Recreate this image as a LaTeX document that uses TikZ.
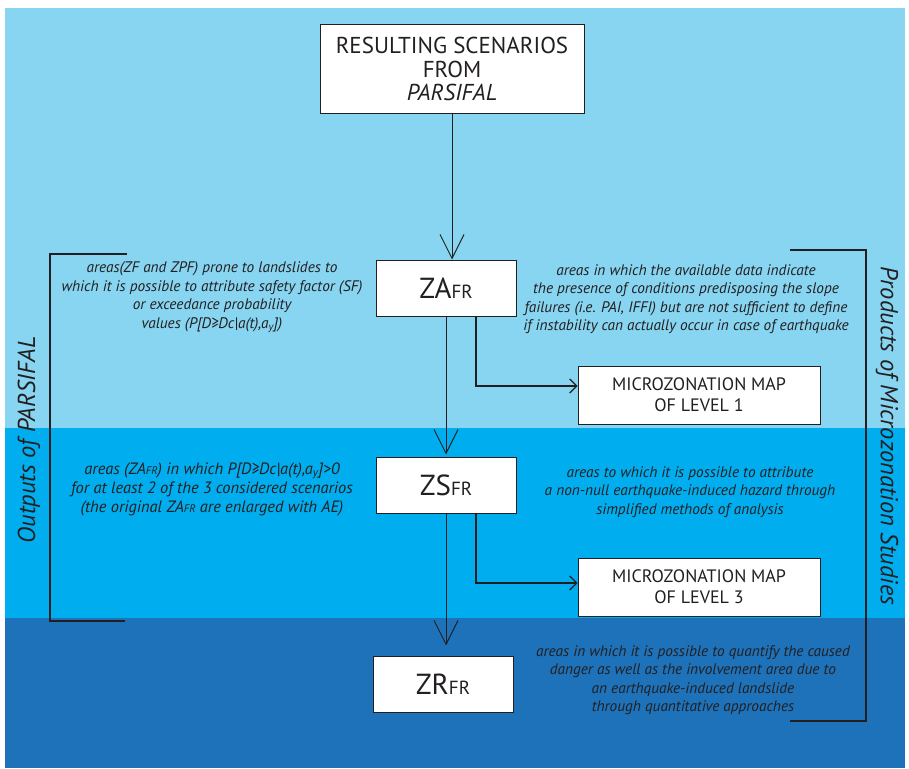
\documentclass[tikz,border=0pt]{standalone}
\usepackage{fontspec}
\setmainfont{PT Sans}
\usetikzlibrary{arrows.meta}
\definecolor{bgA}{HTML}{87D5F1}
\definecolor{bgB}{HTML}{00AEEF}
\definecolor{bgC}{HTML}{1D72BA}
\definecolor{ink}{HTML}{231F20}
\newcommand{\FR}[1]{{\fontsize{#1}{#1}\selectfont FR}}
\begin{document}
\begin{tikzpicture}[x=1pt,y=-1pt,
  box/.style={draw=ink, fill=white, line width=1pt, inner sep=0pt, align=center, text=ink},
  zbox/.style={box, minimum width=140pt, minimum height=56pt, font=\fontsize{29}{29}\selectfont},
  mapbox/.style={box, minimum width=242pt, minimum height=58pt, font=\fontsize{18}{21}\selectfont},
  note/.style={align=center, text=ink, inner sep=0pt, font=\fontsize{15.3}{18.5}\selectfont\itshape},
  side/.style={text=ink, inner sep=0pt, font=\fontsize{24.5}{24.5}\selectfont\itshape},
  bigarrow/.style={draw=ink, line width=1pt, -{Straight Barb[length=24pt,width=24pt,line width=1pt]}},
  smallarrow/.style={draw=ink, line width=1.2pt, -{Straight Barb[length=7pt,width=14pt,line width=1.2pt]}},
  bracket/.style={draw=ink, line width=1.8pt}
]
\useasboundingbox (0,0) rectangle (909,768);
\fill[white] (0,0) rectangle (909,768);
\fill[bgA] (5,8) rectangle (905,428);
\fill[bgB] (5,428) rectangle (905,618);
\fill[bgC] (5,618) rectangle (905,768);

% boxes
\node[box, minimum width=264pt, minimum height=88pt, font=\fontsize{23}{23.5}\selectfont] (top) at (452,69)
  {RESULTING SCENARIOS\\FROM\\\textit{PARSIFAL}};
\node[zbox] (za) at (446,288) {ZA\FR{19}};
\node[zbox] (zs) at (446,485) {ZS\FR{19}};
\node[zbox] (zr) at (443,684) {ZR\FR{19}};
\node[mapbox] (m1) at (699,395) {MICROZONATION MAP\\OF LEVEL 1};
\node[mapbox] (m3) at (699,587) {MICROZONATION MAP\\OF LEVEL 3};

% connectors
\draw[bigarrow] (top.south) -- (top.south |- za.north);
\draw[bigarrow, shorten >=2pt] (za.south) -- (zs.north);
\draw[bigarrow, shorten >=10pt] (zs.south) -- (zs.south |- zr.north);
\draw[smallarrow] ([xshift=30pt]za.south) |- ([yshift=9pt]m1.west);
\draw[smallarrow] ([xshift=30pt]zs.south) |- ([yshift=4pt]m3.west);

% notes
\node[note] (n1) at (212,297) {areas(ZF and ZPF) prone to landslides to\\which it is possible to attribute safety factor (SF)\\or exceedance probability\\values (P[D≥Dc|a(t),a\textsubscript{y}])};
\node[note] (n2) at (686,299) {areas in which the available data indicate\\the presence of conditions predisposing the slope\\failures (i.e. PAI, IFFI) but are not sufficient to define\\if instability can actually occur in case of earthquake};
\node[note, font=\fontsize{16.4}{19}\selectfont\itshape] (n3) at (212,489) {areas (ZA\FR{11}) in which P[D≥Dc|a(t),a\textsubscript{y}]>0\\for at least 2 of the 3 considered scenarios\\(the original ZA\FR{11} are enlarged with AE)};
\node[note] (n4) at (690,492) {areas to which it is possible to attribute\\a non-null earthquake-induced hazard through\\simplified methods of analysis};
\node[note] (n5) at (693,680) {areas in which it is possible to quantify the caused\\danger as well as the involvement area due to\\an earthquake-induced landslide\\through quantitative approaches};

% brackets
\draw[bracket] (127,254) -- (50,254) -- (50,621) -- (125,621);
\draw[bracket] (790,250) -- (866,250) -- (866,721) -- (790,721);
\node[side, rotate=90] (outp) at (29,440) {Outputs of PARSIFAL};
\node[side, rotate=-90] (prod) at (887,436) {Products of Microzonation Studies};
\end{tikzpicture}
\end{document}
